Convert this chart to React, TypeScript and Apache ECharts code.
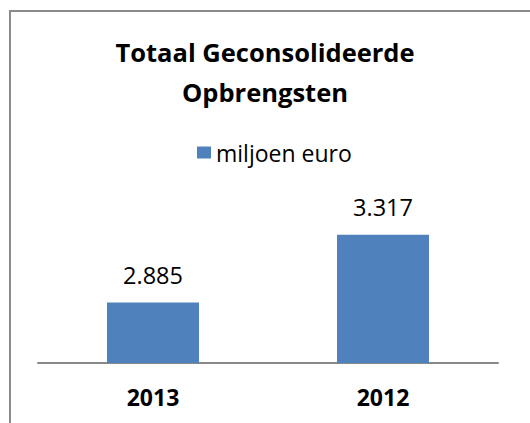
import React, { useEffect, useRef } from "react";
import * as echarts from "echarts";

const categories = ["2013", "2012"];
const seriesName = "miljoen euro";
const values = [2885, 3317];
const titleText = "Totaal Geconsolideerde\nOpbrengsten";

export default function App() {
  const ref = useRef<HTMLDivElement>(null);
  useEffect(() => {
    document.body.style.margin = "0";
    const chart = echarts.init(ref.current!, null, { renderer: "svg" });
    const font = "'Open Sans', sans-serif";
    chart.setOption({
      animation: false,
      backgroundColor: "#ffffff",
      title: {
        text: titleText,
        left: "center",
        top: 27,
        textStyle: {
          fontFamily: font,
          fontWeight: "bold",
          fontSize: 25.5,
          lineHeight: 40,
          color: "#000000",
        },
      },
      legend: {
        top: 136,
        left: 192,
        itemWidth: 14,
        itemHeight: 12,
        itemGap: 5,
        icon: "rect",
        textStyle: { fontFamily: font, fontSize: 23, color: "#000000" },
        data: [seriesName],
      },
      graphic: [
        {
          type: "rect",
          shape: { x: 10, y: 11, width: 700, height: 700 },
          style: { fill: "none", stroke: "#8a8a8a", lineWidth: 2 },
          silent: true,
        },
      ],
      grid: { left: 38, right: 32, top: 206, bottom: 60, containLabel: false },
      xAxis: {
        type: "category",
        data: categories,
        axisLine: { show: true, lineStyle: { color: "#888888", width: 2 } },
        axisTick: { show: false },
        axisLabel: {
          margin: 22,
          fontFamily: font,
          fontWeight: "bold",
          fontSize: 23,
          color: "#000000",
        },
      },
      yAxis: {
        type: "value",
        min: 2500,
        max: 3500,
        show: false,
        splitLine: { show: false },
      },
      series: [
        {
          name: seriesName,
          type: "bar",
          data: values,
          barWidth: "40%",
          itemStyle: { color: "#4f81bd" },
          label: {
            show: true,
            position: "top",
            distance: 16,
            fontFamily: font,
            fontSize: 23.5,
            color: "#000000",
            formatter: (p: any) => p.value.toLocaleString("nl-NL"),
          },
        },
      ],
    });
    return () => chart.dispose();
  }, []);
  return <div ref={ref} style={{ width: 530, height: 423 }} />;
}
